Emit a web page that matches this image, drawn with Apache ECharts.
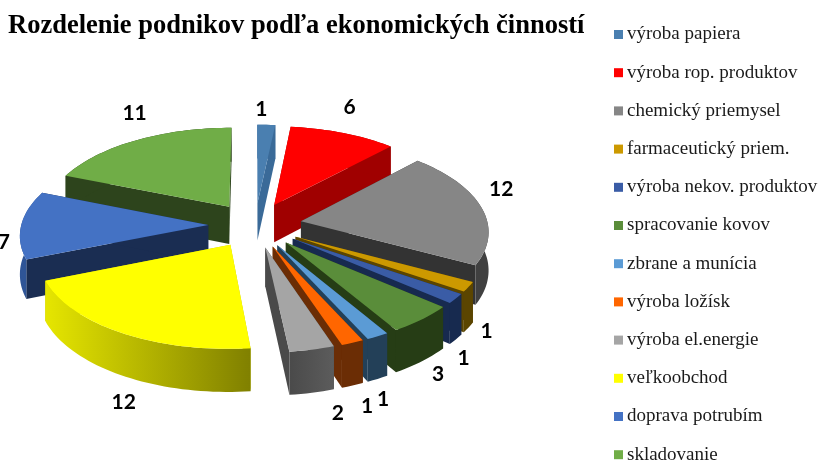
<!DOCTYPE html>
<html>
<head>
<meta charset="utf-8">
<style>html,body{margin:0;padding:0;background:#fff}#chart{width:822px;height:463px}</style>
<script src="https://cdn.jsdelivr.net/npm/echarts@6/dist/echarts.min.js"></script>
</head>
<body>
<div id="chart"></div>
<script>
const categories = ['výroba papiera', 'výroba rop. produktov', 'chemický priemysel', 'farmaceutický priem.', 'výroba nekov. produktov', 'spracovanie kovov', 'zbrane a munícia', 'výroba ložísk', 'výroba el.energie', 'veľkoobchod', 'doprava potrubím', 'skladovanie'];
const values = [1, 6, 12, 1, 1, 3, 1, 1, 2, 12, 7, 11];

const topColors = ['#4a7fb0', '#ff0000', '#868686', '#cc9900', '#3a5ca6', '#5a8d3a', '#5b9bd5', '#ff6600', '#a5a5a5', '#ffff00', '#4472c4', '#70ad47'];
const cutColors = ['#3a6a98', '#a00000', '#333333', '#5b4500', '#172a4f', '#263d15', '#234058', '#6b2d05', '#4a4a4a', '#c4c400', '#1a2d52', '#2d441c'];
const outerColors = ['#3a6a98', '#a00000', '#404040', '#5b4500', '#172a4f', '#263d15', '#234058', '#6b2d05', ['#4a4a4a', '#5c5c5c'], ['#e6e600', '#808000'], '#2f5597', '#2d441c'];

// 3d view of the disc
const cx = 255, cy = 225, radiusX = 187, radiusY = 90, depth = 38, persp = 0.097, explode = 0.25;
const labelNudge = [[-6, -6], [-2, -17], [-3, -16], [-6, -3], [-15, 10], [-3, 2], [-9, 7], [3, 6], [19, 5], [19, 14], [7, -21], [10, -19]];

const total = values.reduce((a, b) => a + b, 0);
let running = 0;
const slices = values.map(v => {
  const start = running / total * Math.PI * 2;
  running += v;
  return {start, end: running / total * Math.PI * 2};
});

function project(x, y, z) {
  const s = 1 / (1 + persp * y);
  return [cx + radiusX * x * s, cy - radiusY * y * s + depth * z * s];
}

function renderSlice(params, api, i) {
  const {start, end} = slices[i];
  const mid = (start + end) / 2;
  const tipX = explode * Math.sin(mid), tipY = explode * Math.cos(mid);
  const steps = Math.max(4, Math.ceil((end - start) / 0.03));
  const arc = [];
  for (let n = 0; n <= steps; n++) {
    const a = start + (end - start) * n / steps;
    arc.push([tipX + Math.sin(a), tipY + Math.cos(a)]);
  }
  const top = arc.map(p => project(p[0], p[1], 0));
  const bottom = arc.map(p => project(p[0], p[1], 1));
  const tipTop = project(tipX, tipY, 0), tipBottom = project(tipX, tipY, 1);

  let outerFill = outerColors[i];
  if (Array.isArray(outerFill)) {
    outerFill = {
      type: 'linear', x: 0, y: 0, x2: 1, y2: 0,
      colorStops: [{offset: 0, color: outerFill[0]}, {offset: 1, color: outerFill[1]}]
    };
  }
  const last = arc.length - 1;
  const labelPoint = project(tipX + 1.13 * Math.sin(mid), tipY + 1.13 * Math.cos(mid), Math.cos(mid) < 0 ? 1 : 0);

  return {
    type: 'group',
    children: [
      {type: 'polygon', shape: {points: [tipTop, top[0], bottom[0], tipBottom]}, style: {fill: cutColors[i]}},
      {type: 'polygon', shape: {points: [tipTop, top[last], bottom[last], tipBottom]}, style: {fill: cutColors[i]}},
      {type: 'polygon', shape: {points: top.concat(bottom.slice().reverse())}, style: {fill: outerFill}},
      {type: 'polygon', shape: {points: [tipTop].concat(top)}, style: {fill: topColors[i]}},
      {
        type: 'text',
        style: {
          text: String(api.value(0)),
          x: labelPoint[0] + labelNudge[i][0],
          y: labelPoint[1] + labelNudge[i][1],
          fill: '#000',
          font: 'bold 21px Lato',
          align: 'center',
          verticalAlign: 'middle'
        }
      }
    ]
  };
}

// far slices get painted first
const paintOrder = slices
  .map((s, i) => ({i, y: Math.cos((s.start + s.end) / 2)}))
  .sort((a, b) => b.y - a.y)
  .map(o => o.i);

const chart = echarts.init(document.getElementById('chart'));
chart.setOption({
  animation: false,
  title: {
    text: 'Rozdelenie podnikov podľa ekonomických činností',
    left: 3,
    top: 8,
    textStyle: {fontFamily: 'Liberation Serif', fontWeight: 'bold', fontSize: 26.5, color: '#000'}
  },
  legend: {
    orient: 'vertical',
    left: 614,
    top: 25,
    height: 445,
    padding: 0,
    icon: 'rect',
    itemWidth: 9,
    itemHeight: 9,
    itemGap: 19.2,
    selectedMode: false,
    data: categories,
    textStyle: {fontFamily: 'Liberation Serif', fontSize: 19, color: '#1a1a1a', padding: [0, 0, 0, -1]}
  },
  series: categories.map((name, i) => ({
    type: 'custom',
    name: name,
    coordinateSystem: 'none',
    z: 2 + paintOrder.indexOf(i),
    itemStyle: {color: topColors[i]},
    data: [values[i]],
    renderItem: (params, api) => renderSlice(params, api, i)
  }))
});
</script>
</body>
</html>
